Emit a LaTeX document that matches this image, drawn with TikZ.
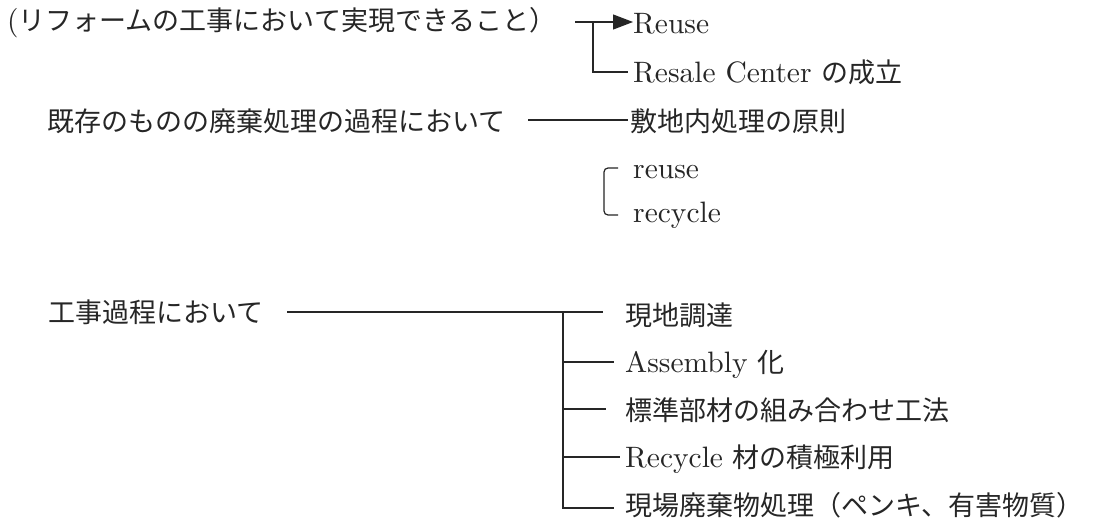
\documentclass[tikz,border=0pt]{standalone}
\usepackage{fontspec}
\newfontfamily\jpfont{Noto Sans CJK JP}
\newfontfamily\latf{lmroman10-regular.otf}
\usetikzlibrary{arrows.meta}
\definecolor{ink}{HTML}{262626}
\newcommand\lt[1]{{\latf\fontsize{29.5}{32}\selectfont #1}}
\begin{document}
\begin{tikzpicture}[x=1pt,y=-1pt,
  txt/.style={anchor=base west, inner sep=0pt, font=\jpfont\fontsize{27}{32}\selectfont, text=ink},
  ln/.style={line width=1.2pt, draw=ink}]
\useasboundingbox[fill=white] (0,0) rectangle (1095,522);
% texts
\node[txt] (r1) at (7,30) {\lt{(}リフォームの工事において実現できること）};
\node[txt] (reuse) at (633,33) {\lt{Reuse}};
\node[txt] (resale) at (633,82) {\lt{Resale Center }の成立};
\node[txt] (r2) at (47,131) {既存のものの廃棄処理の過程において};
\node[txt] (shiki) at (630,131) {敷地内処理の原則};
\node[txt] (ru) at (633,178) {\lt{reuse}};
\node[txt] (rc) at (633,222) {\lt{recycle}};
\node[txt] (r3) at (48,322) {工事過程において};
\node[txt] (b1) at (625,325) {現地調達};
\node[txt] (b2) at (625,372) {\lt{Assembly }化};
\node[txt] (b3) at (625,420) {標準部材の組み合わせ工法};
\node[txt] (b4) at (625,467) {\lt{Recycle }材の積極利用};
\node[txt] (b5) at (625,515) {現場廃棄物処理（ペンキ、有害物質）};
% top connectors
\coordinate (a0) at (575,22);
\coordinate (a1) at (593,22);
\coordinate (a2) at (593,72);
\draw[ln, -{Triangle[length=20pt,width=15pt]}] (a0) -- (a0 -| reuse.west);
\draw[ln] (a1) -- (a2) -- ([xshift=-5pt]a2 -| resale.west);
% row 2
\coordinate (c0) at (528,120);
\draw[ln] (c0) -- ([xshift=-2pt]c0 -| shiki.west);
% bracket
\coordinate (k1) at (618,168);
\coordinate (k2) at (618,215);
\draw[ln, rounded corners=4pt] (k1) -- (604,168) -- (604,215) -- (k2);
% bottom tree
\coordinate (t0) at (287,312);
\coordinate (v1) at (563,312);
\coordinate (v2) at (563,362);
\coordinate (v3) at (563,409);
\coordinate (v4) at (563,457);
\coordinate (v5) at (563,508);
\draw[ln] (t0) -- ([xshift=-22pt]t0 -| b1.west);
\draw[ln] (v1) -- (v5) -- ([xshift=-11pt]v5 -| b5.west);
\draw[ln] (v2) -- ([xshift=-11pt]v2 -| b2.west);
\draw[ln] (v3) -- ([xshift=-19pt]v3 -| b3.west);
\draw[ln] (v4) -- ([xshift=-5pt]v4 -| b4.west);
\end{tikzpicture}
\end{document}
